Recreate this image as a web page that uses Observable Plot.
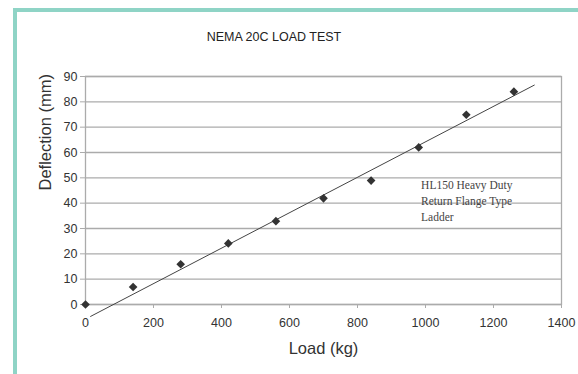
<!DOCTYPE html>
<html><head><meta charset="utf-8">
<script src="https://cdn.jsdelivr.net/npm/d3@7"></script>
<script src="https://cdn.jsdelivr.net/npm/@observablehq/plot@0.6"></script>
<style>
body{margin:0;background:#fff;}
#wrap{position:relative;width:578px;height:374px;overflow:hidden;font-family:"Liberation Sans",Arial,sans-serif;background:#fff;}
#tealTop{position:absolute;left:13px;top:8px;width:565px;height:4px;background:#8fd4c6;}
#tealLeft{position:absolute;left:13px;top:8px;width:4px;height:366px;background:#8fd4c6;}
#title{position:absolute;left:0;width:548px;top:30px;text-align:center;font-size:12.5px;color:#222;}
#chart{position:absolute;left:0;top:0;}
</style>
</head><body>
<div id="wrap">
  <div id="tealTop"></div>
  <div id="tealLeft"></div>
  <div id="title">NEMA 20C LOAD TEST</div>
  <div id="chart"></div>
</div>
<script>
const loads = [0, 140, 280, 420, 560, 700, 840, 980, 1120, 1260];
const deflections = [0, 6.9, 15.9, 24.1, 32.9, 41.9, 48.9, 62.0, 74.9, 84.0];
const trendLoad = [15, 1320];
const trendDeflection = [-4.7, 86.6];
const xTicks = [0, 200, 400, 600, 800, 1000, 1200, 1400];
const yTicks = [0, 10, 20, 30, 40, 50, 60, 70, 80, 90];
const noteLines = ["HL150 Heavy Duty", "Return Flange Type", "Ladder"];
const noteLoad = [987];
const noteDeflection = [41.3];
const xLabel = "Load (kg)";
const yLabel = "Deflection (mm)";

const gridColor = "#ababab";
const textColor = "#333";

const chart = Plot.plot({
  width: 578,
  height: 374,
  marginLeft: 85,
  marginRight: 17,
  marginTop: 76,
  marginBottom: 70,
  style: {fontFamily: "'Liberation Sans', Arial, sans-serif", background: "transparent"},
  x: {domain: [0, 1400]},
  y: {domain: [0, 90]},
  marks: [
    Plot.gridY(yTicks, {stroke: gridColor, strokeOpacity: 1, strokeWidth: 1.3}),
    Plot.frame({stroke: gridColor, strokeWidth: 1.3}),
    Plot.axisX(xTicks, {tickSize: 4, tickPadding: 10, fontSize: 12.5, stroke: gridColor, fill: textColor, label: null, tickFormat: d => String(d)}),
    Plot.axisY(yTicks, {tickSize: 5, tickPadding: 3, fontSize: 12.5, stroke: gridColor, fill: textColor, label: null, tickFormat: d => String(d)}),
    Plot.line({length: trendLoad.length}, {x: trendLoad, y: trendDeflection, stroke: "#444", strokeWidth: 1}),
    Plot.dot({length: loads.length}, {x: loads, y: deflections, symbol: "diamond2", r: 3.9, fill: "#333", stroke: "none"}),
    Plot.text([noteLines.join("\n")], {x: noteLoad, y: noteDeflection, text: d => d, textAnchor: "start", lineAnchor: "middle", lineHeight: 1.38, fontSize: 11.5, fontFamily: "'Liberation Serif', 'Times New Roman', serif", fill: "#444"}),
    Plot.text([yLabel], {text: d => d, frameAnchor: "left", rotate: -90, dx: -40, fontSize: 16.5, fill: textColor}),
    Plot.text([xLabel], {text: d => d, frameAnchor: "bottom", dy: 49, fontSize: 16.5, fill: textColor})
  ]
});
document.getElementById("chart").appendChild(chart);
</script>
</body></html>
